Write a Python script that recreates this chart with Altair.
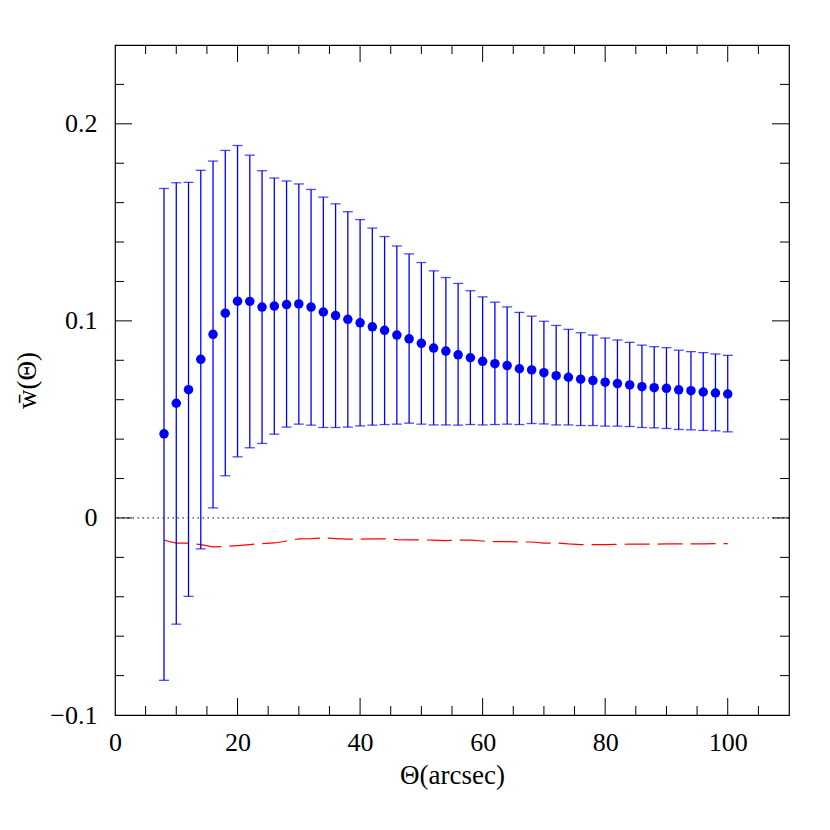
import altair as alt
import pandas as pd

theta = [8, 10, 12, 14, 16, 18, 20, 22, 24, 26, 28, 30, 32, 34, 36, 38, 40, 42, 44, 46,
         48, 50, 52, 54, 56, 58, 60, 62, 64, 66, 68, 70, 72, 74, 76, 78, 80, 82, 84, 86,
         88, 90, 92, 94, 96, 98, 100]
w_mean = [0.0427, 0.0582, 0.0651, 0.0805, 0.0932, 0.1039, 0.1100, 0.1099, 0.1070, 0.1075,
          0.1083, 0.1086, 0.1070, 0.1045, 0.1027, 0.1008, 0.0990, 0.0970, 0.0952, 0.0928,
          0.0909, 0.0886, 0.0862, 0.0847, 0.0828, 0.0813, 0.0795, 0.0783, 0.0773, 0.0757,
          0.0751, 0.0737, 0.0722, 0.0714, 0.0704, 0.0697, 0.0689, 0.0682, 0.0675, 0.0666,
          0.0661, 0.0658, 0.0650, 0.0646, 0.0639, 0.0634, 0.0629]
w_hi = [0.1672, 0.1701, 0.1703, 0.1764, 0.1811, 0.1865, 0.1890, 0.1841, 0.1762, 0.1725,
        0.1710, 0.1695, 0.1667, 0.1628, 0.1594, 0.1554, 0.1514, 0.1471, 0.1428, 0.1380,
        0.1340, 0.1296, 0.1254, 0.1220, 0.1190, 0.1153, 0.1122, 0.1095, 0.1071, 0.1043,
        0.1024, 0.0998, 0.0977, 0.0957, 0.0940, 0.0928, 0.0913, 0.0903, 0.0891, 0.0877,
        0.0869, 0.0864, 0.0851, 0.0844, 0.0839, 0.0832, 0.0825]
w_lo = [-0.0824, -0.0539, -0.0398, -0.0157, 0.0051, 0.0214, 0.0310, 0.0356, 0.0378, 0.0425,
        0.0461, 0.0476, 0.0471, 0.0459, 0.0459, 0.0461, 0.0467, 0.0471, 0.0474, 0.0476,
        0.0481, 0.0476, 0.0472, 0.0472, 0.0471, 0.0474, 0.0472, 0.0474, 0.0476, 0.0474,
        0.0479, 0.0477, 0.0472, 0.0472, 0.0469, 0.0469, 0.0466, 0.0466, 0.0464, 0.0459,
        0.0457, 0.0454, 0.0449, 0.0447, 0.0444, 0.0442, 0.0437]
w_random = [-0.0113, -0.0128, -0.0128, -0.0135, -0.0147, -0.0145, -0.0140, -0.0135, -0.0130,
            -0.0127, -0.0117, -0.0106, -0.0105, -0.0101, -0.0105, -0.0108, -0.0108, -0.0106,
            -0.0106, -0.0110, -0.0111, -0.0111, -0.0113, -0.0115, -0.0113, -0.0113, -0.0117,
            -0.0120, -0.0120, -0.0122, -0.0122, -0.0128, -0.0127, -0.0132, -0.0135, -0.0135,
            -0.0135, -0.0134, -0.0133, -0.0133, -0.0133, -0.0132, -0.0132, -0.0132, -0.0132,
            -0.0130, -0.0130]

x_major_ticks = [20, 40, 60, 80, 100]
x_minor_ticks = [5, 10, 15, 25, 30, 35, 45, 50, 55, 65, 70, 75, 85, 90, 95, 105]
y_major_ticks = [0.0, 0.1, 0.2]
y_minor_ticks = [-0.08, -0.06, -0.04, -0.02, 0.02, 0.04, 0.06, 0.08, 0.12, 0.14, 0.16,
                 0.18, 0.22]
x_label_values = [0, 20, 40, 60, 80, 100]
y_label_values = [-0.1, 0.0, 0.1, 0.2]

W, H = 674, 670
MAJ, MIN = 17, 9
FONT = "Liberation Serif"
BLUE = "#0000ff"
X_TITLE = "Θ(arcsec)"
Y_TITLE = "w\u0304(Θ)"

df = pd.DataFrame({"theta": theta, "w": w_mean, "hi": w_hi, "lo": w_lo, "rnd": w_random})

xs = alt.Scale(domain=[0, 110], nice=False, zero=False)
ys = alt.Scale(domain=[-0.1, 0.24], nice=False, zero=False)

xaxis = alt.Axis(values=x_label_values, format="d", ticks=False, domain=False,
                 grid=False, labelFlush=False, labelFont=FONT, labelFontSize=26,
                 labelColor="black", labelPadding=14, titleFont=FONT, titleFontSize=27,
                 titleFontWeight="normal", titleColor="black",
                 titleX=W / 2, titleY=60, titleBaseline="middle")
yaxis = alt.Axis(values=y_label_values, ticks=False, domain=False, grid=False,
                 labelFlush=False,
                 labelExpr="datum.value == 0 ? '0' : format(datum.value, '.1f')",
                 labelFont=FONT, labelFontSize=26, labelColor="black",
                 labelPadding=18, titleFont=FONT, titleFontSize=27,
                 titleFontWeight="normal", titleColor="black",
                 titleX=-88, titleY=H / 2, titleBaseline="middle")


def X(field):
    return alt.X(field, type="quantitative", scale=xs, axis=xaxis, title=X_TITLE)


def Y(field):
    return alt.Y(field, type="quantitative", scale=ys, axis=yaxis, title=Y_TITLE)


base = alt.Chart(df)

bars = base.mark_rule(color=BLUE, strokeWidth=1.3).encode(
    x=X("theta"), y=Y("lo"), y2="hi:Q")
cap_hi = base.mark_tick(color=BLUE, orient="horizontal", size=10, thickness=1.3).encode(
    x=X("theta"), y=Y("hi"))
cap_lo = base.mark_tick(color=BLUE, orient="horizontal", size=10, thickness=1.3).encode(
    x=X("theta"), y=Y("lo"))
points = base.mark_circle(color=BLUE, size=90, opacity=1).encode(
    x=X("theta"), y=Y("w"))
rnd_line = base.mark_line(color="#ff0000", strokeWidth=1.2, strokeDash=[25, 8]).encode(
    x=X("theta"), y=Y("rnd"))
zero = alt.Chart(pd.DataFrame({"z": [0.0]})).mark_rule(
    color="black", strokeWidth=1, strokeDash=[1.5, 3.5]
).encode(y=Y("z"))


def xticks(vals, length):
    d = alt.Chart(pd.DataFrame({"t": vals}))
    bottom = d.mark_rule(color="black", strokeWidth=1).encode(
        x=X("t"), y=alt.value(H), y2=alt.value(H - length))
    top = d.mark_rule(color="black", strokeWidth=1).encode(
        x=X("t"), y=alt.value(0), y2=alt.value(length))
    return [bottom, top]


def yticks(vals, length):
    d = alt.Chart(pd.DataFrame({"t": vals}))
    left = d.mark_rule(color="black", strokeWidth=1).encode(
        y=Y("t"), x=alt.value(0), x2=alt.value(length))
    right = d.mark_rule(color="black", strokeWidth=1).encode(
        y=Y("t"), x=alt.value(W), x2=alt.value(W - length))
    return [left, right]


tick_layers = (xticks(x_major_ticks, MAJ) + xticks(x_minor_ticks, MIN)
               + yticks(y_major_ticks, MAJ) + yticks(y_minor_ticks, MIN))

chart = alt.layer(
    points, zero, rnd_line, bars, cap_hi, cap_lo, *tick_layers
).properties(
    width=W, height=H,
    background="white",
    autosize=alt.AutoSizeParams(type="none"),
    padding={"left": 107, "top": 37, "right": 33, "bottom": 107},
).configure_view(stroke="black", strokeWidth=1.2)

chart.save("out.html", embed_options={"renderer": "svg", "actions": False})
